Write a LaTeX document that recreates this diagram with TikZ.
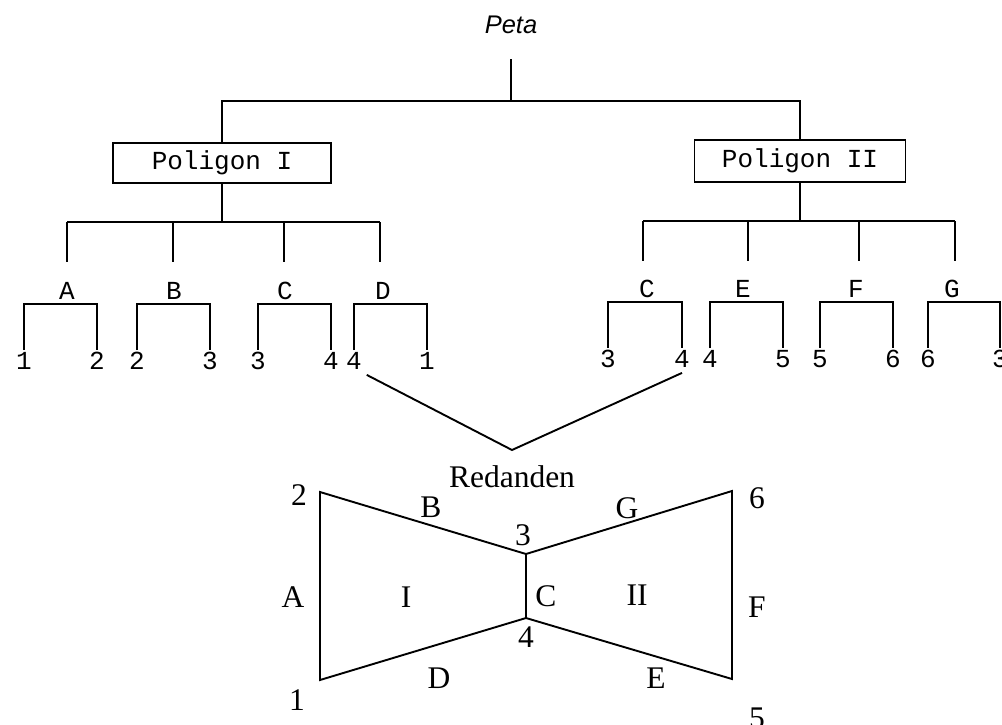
\documentclass[tikz,border=0pt]{standalone}
\usepackage{fontspec}
\setmainfont{Liberation Serif}
\newfontfamily\monofont{Liberation Mono}
\newfontfamily\sansfont{Liberation Sans}
\begin{document}
\begin{tikzpicture}[x=1pt,y=-1pt,
  line width=1.9pt,
  title/.style={font=\sansfont\itshape\fontsize{25.5}{25.5}\selectfont, inner sep=0pt},
  polybox/.style={draw, line width=1.9pt, font=\monofont\fontsize{26}{26}\selectfont, inner sep=0pt},
  leaf/.style={font=\monofont\fontsize{26}{26}\selectfont, inner sep=4pt, text height=15pt, text depth=0pt},
  fig/.style={font=\fontsize{31.5}{31.5}\selectfont, inner sep=0pt}]
\useasboundingbox (0,0) rectangle (1002,724);

% root of the tree
\node[title] (peta) at (511,25) {Peta};
\coordinate (top) at (511,59);
\coordinate (bar) at (511,101);

% the two polygons
\node[polybox, minimum width=218pt, minimum height=40pt] (p1) at (222,163) {Poligon I};
\node[polybox, minimum width=211pt, minimum height=42pt] (p2) at (800,161) {Poligon II};

\draw (top) -- (bar);
\draw (p1.north) -- (p1.north |- bar) -- (p2.north |- bar) -- (p2.north);

% junctions under each polygon
\coordinate (j1) at (222,222);
\coordinate (j2) at (800,221);
\draw (p1.south) -- (j1);
\draw (p2.south) -- (j2);
\draw (67,222) -- (380,222);
\draw (643,221) -- (955,221);

% edges of polygon I: stem x / label x / left leg / right leg / vertices
\foreach \e/\sx/\lx/\l/\r/\a/\b in {A/67/67/24/97/1/2, B/173/174/137/210/2/3, C/284/285/258/331/3/4, D/380/383/354/427/4/1} {
  \draw (\sx,222) -- (\sx,262);
  \node[leaf, anchor=south] (lI\e) at (\lx,304) {\e};
  \node[leaf, anchor=north] (nI\e a) at (\l,350) {\a};
  \node[leaf, anchor=north] (nI\e b) at (\r,350) {\b};
  \draw (nI\e a.north) |- (lI\e.south) -| (nI\e b.north);
}

% edges of polygon II
\foreach \e/\sx/\lx/\l/\r/\a/\b in {C/643/647/608/682/3/4, E/748/743/710/783/4/5, F/859/856/820/893/5/6, G/955/952/928/1000/6/3} {
  \draw (\sx,221) -- (\sx,261);
  \node[leaf, anchor=south] (lII\e) at (\lx,302) {\e};
  \node[leaf, anchor=north] (nII\e a) at (\l,348) {\a};
  \node[leaf, anchor=north] (nII\e b) at (\r,348) {\b};
  \draw (nII\e a.north) |- (lII\e.south) -| (nII\e b.north);
}

% the shared edge C (vertices 3-4)
\coordinate (apex) at (512,450);
\draw (nIDa.south east) -- (apex) -- (nIICb.south);

% the polygon drawing
\node[fig] (red) at (512,477) {Redanden};
\coordinate (v1) at (320,680);
\coordinate (v2) at (320,492);
\coordinate (v3) at (526,554);
\coordinate (v4) at (526,618);
\coordinate (v5) at (732,679);
\coordinate (v6) at (732,491);
\draw[line join=miter] (v1) -- (v2) -- (v3) -- (v4) -- cycle;
\draw[line join=miter] (v3) -- (v6) -- (v5) -- (v4);

\node[fig] (t2) at (299,495) {2};
\node[fig] (tB) at (431,507) {B};
\node[fig] (t3) at (523,535) {3};
\node[fig] (tG) at (627,508) {G};
\node[fig] (t6) at (757,498) {6};
\node[fig] (tA) at (293,597) {A};
\node[fig] (tI) at (406,597) {I};
\node[fig] (tC) at (546,596) {C};
\node[fig] (tII) at (637,595) {II};
\node[fig] (tF) at (757,607) {F};
\node[fig] (t4) at (526,637) {4};
\node[fig] (tD) at (439,678) {D};
\node[fig] (tE) at (656,678) {E};
\node[fig] (t1) at (297,700) {1};
\node[fig] (t5) at (757,718) {5};
\end{tikzpicture}
\end{document}
